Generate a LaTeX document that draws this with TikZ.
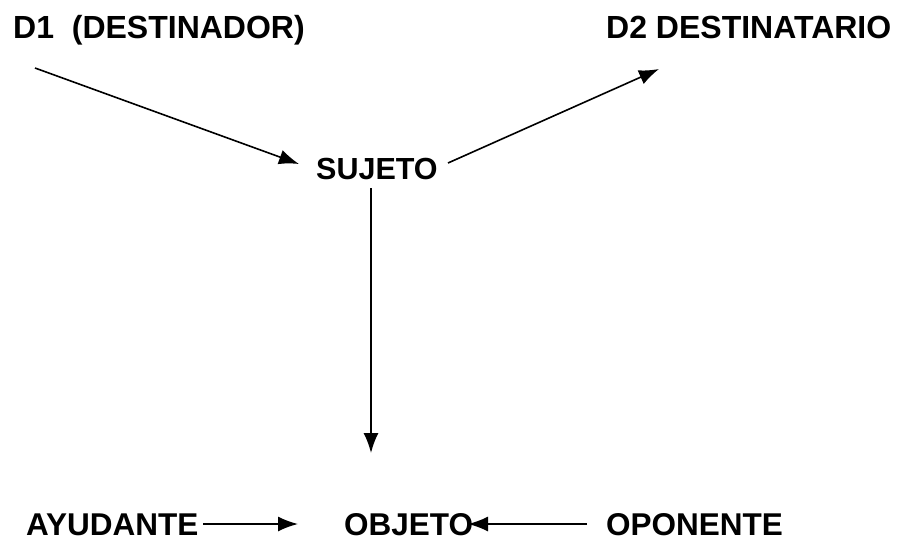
\documentclass[tikz,border=0pt]{standalone}
\usepackage{fontspec}
\setmainfont{Liberation Sans}
\usetikzlibrary{arrows.meta}
\tikzset{
  lbl/.style={anchor=base west, inner sep=0pt, font=\bfseries\fontsize{32}{34}\selectfont},
  lbls/.style={anchor=base west, inner sep=0pt, font=\bfseries\fontsize{30.5}{33}\selectfont},
  lblb/.style={anchor=base west, inner sep=0pt, font=\bfseries\fontsize{31.5}{33}\selectfont},
  conn/.style={line width=1.6pt, -{Latex[length=20pt,width=15pt]}},
}
\begin{document}
\begin{tikzpicture}[x=1pt,y=-1pt]
\useasboundingbox (0,0) rectangle (901,541);
\node[lbl] (d1) at (13,38) {D1\ \ (DESTINADOR)};
\node[lbl] (d2) at (606,38) {D2 DESTINATARIO};
\node[lbls] (suj) at (316,179) {SUJETO};
\node[lblb] (ay) at (26,535) {AYUDANTE};
\node[lblb] (obj) at (344,535) {OBJETO};
\node[lblb] (op) at (606,535) {OPONENTE};
\coordinate (d1s) at (35,68);
\coordinate (sujin) at (299,164);
\coordinate (sujout) at (448,163);
\coordinate (d2in) at (659,69);
\coordinate (sujdown) at (371,188);
\coordinate (objin) at (371,453);
\coordinate (ays) at (203,524);
\coordinate (ayt) at (298,524);
\coordinate (ops) at (587,524);
\coordinate (opt) at (468,524);
\draw[conn] (d1s) -- (sujin);
\draw[conn] (sujout) -- (d2in);
\draw[conn] (sujdown) -- (objin);
\draw[conn] (ays) -- (ayt);
\draw[conn] (ops) -- (opt);
\end{tikzpicture}
\end{document}
